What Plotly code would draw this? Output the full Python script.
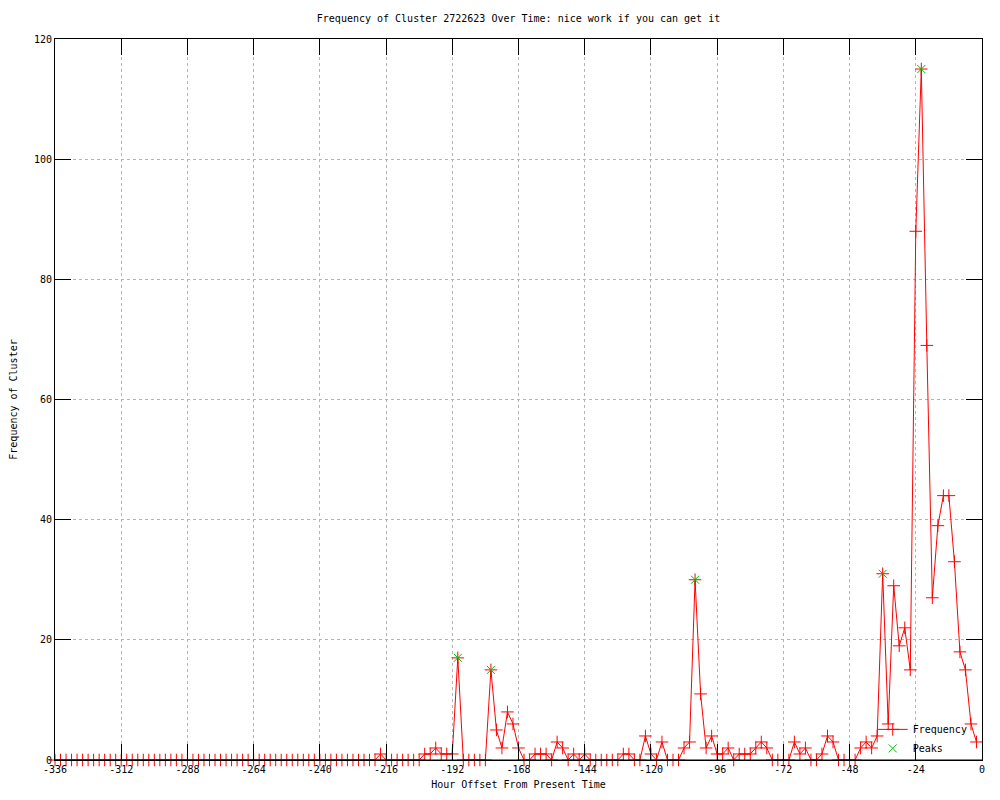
import plotly.graph_objects as go

# ---- data ----
hours = list(range(-336, 0, 2))  # one sample every 2 hours
frequency = (
    [0] * 59  # -336 .. -220
    + [1, 0, 0, 0, 0, 0, 0, 0, 1, 1, 2, 1, 1, 1]  # -218 .. -192
    + [17, 0, 0, 0, 0, 0, 15, 5, 2, 8, 6, 2, 0, 0, 1, 1, 1, 0, 3, 2, 0, 1, 0, 1]  # -190 .. -144
    + [0, 0, 0, 0, 0, 0, 1, 1, 0, 0, 4, 1, 0, 3, 0, 0, 0, 2, 3, 30, 11, 2, 4, 1]  # -142 .. -96
    + [1, 2, 0, 1, 1, 1, 2, 3, 2, 0, 0, 0, 0, 3, 1, 2, 0, 0, 1, 4, 3, 0, 0, 0]  # -94 .. -48
    + [0, 2, 3, 2, 4, 31, 6, 29, 19, 22, 15, 88, 115, 69, 27, 39, 44, 44, 33, 18, 15, 6, 3]  # -46 .. -2
)
peak_hours = [-190, -178, -104, -36, -22]
peak_values = [17, 15, 30, 31, 115]

x_ticks = [-336, -312, -288, -264, -240, -216, -192, -168, -144, -120, -96, -72, -48, -24, 0]
y_ticks = [0, 20, 40, 60, 80, 100, 120]

FONT = "DejaVu Sans Mono"

fig = go.Figure()
fig.add_trace(go.Scatter(
    x=hours, y=frequency, mode="lines+markers", name="Frequency",
    line=dict(color="#ff0000", width=1), cliponaxis=False,
    marker=dict(symbol="cross-thin", size=9, color="#ff0000",
                line=dict(color="#ff0000", width=1)),
))
fig.add_trace(go.Scatter(
    x=peak_hours, y=peak_values, mode="markers", name="Peaks", cliponaxis=False,
    marker=dict(symbol="x-thin", size=8, color="#00c000",
                line=dict(color="#00c000", width=1)),
))

axis_common = dict(
    showline=True, linecolor="black", linewidth=1, mirror="ticks",
    ticks="inside", ticklen=16, tickcolor="black", tickwidth=1,
    showgrid=True, gridcolor="#b4b4b4", griddash="dot", gridwidth=1,
    zeroline=False, layer="above traces",
    tickfont=dict(family=FONT, size=10, color="black"),
)

# bottom border redrawn above the unclipped markers (as the gnuplot frame is)
fig.add_shape(type="line", xref="paper", yref="paper", x0=0, x1=1, y0=0, y1=0,
              line=dict(color="black", width=1), layer="above")

fig.update_layout(
    width=1000, height=800,
    paper_bgcolor="white", plot_bgcolor="white",
    margin=dict(l=55, r=18, t=39, b=40),
    font=dict(family=FONT, size=10, color="black"),
    title=dict(text="Frequency of Cluster 2722623 Over Time: nice work if you can get it",
               x=0.5185, xanchor="center", y=0.9775, yanchor="middle",
               font=dict(family=FONT, size=10, color="black")),
    xaxis=dict(range=[-336, 0], tickvals=x_ticks, ticktext=[str(v) for v in x_ticks],
               title=dict(text="Hour Offset From Present Time", standoff=6,
                          font=dict(family=FONT, size=10)),
               **axis_common),
    yaxis=dict(range=[0, 120], tickvals=y_ticks, ticktext=[str(v) for v in y_ticks],
               title=dict(text="Frequency of Cluster", standoff=14,
                          font=dict(family=FONT, size=10)),
               **axis_common),
    showlegend=True,
    legend=dict(x=0.99, xanchor="right", y=-0.004, yanchor="bottom",
                bgcolor="rgba(0,0,0,0)", font=dict(family=FONT, size=10),
                tracegroupgap=0, itemwidth=30),
)

fig.write_html("out.html", config={"displayModeBar": False},
               post_script="document.body.style.margin='0';")
